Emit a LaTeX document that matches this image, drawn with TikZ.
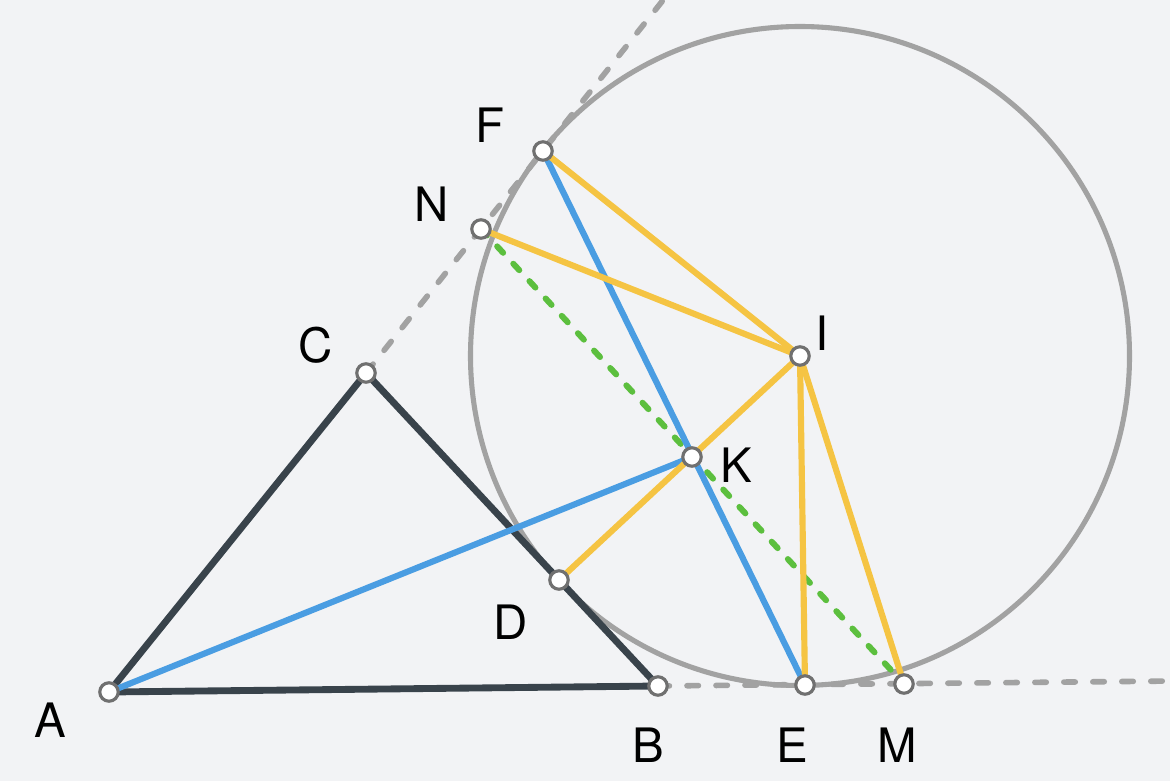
\documentclass[tikz,border=0pt]{standalone}
\usepackage{fontspec}
\setmainfont{TeX Gyre Heros}
\definecolor{bg}{HTML}{F2F3F5}
\definecolor{dark}{HTML}{39434B}
\definecolor{bl}{HTML}{4A9DE2}
\definecolor{yl}{HTML}{F5C443}
\definecolor{gr}{HTML}{5CBF3E}
\definecolor{gy}{HTML}{A2A2A2}
\definecolor{ptc}{HTML}{707070}
\begin{document}
\begin{tikzpicture}[x=0.02cm,y=-0.02cm,
  tri/.style={draw=dark,line width=3.9pt,line cap=round,line join=round},
  blu/.style={draw=bl,line width=3.5pt,line cap=round},
  yel/.style={draw=yl,line width=3.5pt,line cap=round},
  grd/.style={draw=gr,line width=3.4pt,dash pattern=on 5pt off 8.5pt,line cap=round},
  gyd/.style={draw=gy,line width=3.2pt,dash pattern=on 6.5pt off 10pt,line cap=round},
  circ/.style={draw=gy,line width=2.9pt},
  pt/.style={circle,fill=white,draw=ptc,line width=1.8pt,inner sep=0pt,minimum size=10.5pt},
  lab/.style={font=\fontsize{27}{27}\selectfont,text=black}]
\fill[bg] (0,0) rectangle (1170,781);
\useasboundingbox (0,0) rectangle (1170,781);
% coordinates
\coordinate (A) at (109,692);
\coordinate (B) at (658,686);
\coordinate (C) at (366,373);
\coordinate (D) at (559,580);
\coordinate (E) at (805,685);
\coordinate (M) at (904,684);
\coordinate (F) at (543,151);
\coordinate (N) at (481,229);
\coordinate (I) at (800,356);
\coordinate (K) at (692,457);
\coordinate (T1) at (668,-6);
\coordinate (T2) at (1175,681);
% dashed lines
\draw[gyd] (C) -- (T1);
\draw[gyd] (B) -- (T2);
% circle
\draw[circ] (I) circle (329.5);
% green dashed
\draw[grd] (N) -- (M);
% triangle
\draw[tri] (A) -- (B) -- (C) -- cycle;
% colored lines
\draw[blu] (A) -- (K);
\draw[blu] (F) -- (E);
\draw[yel] (F) -- (I);
\draw[yel] (N) -- (I);
\draw[yel] (I) -- (D);
\draw[yel] (I) -- (E);
\draw[yel] (I) -- (M);
% points
\foreach \p in {A,B,C,D,E,M,F,N,I,K} \node[pt] (p\p) at (\p) {};
% labels
\node[lab] (lA) at (50,720) {A};
\node[lab] (lB) at (648,745) {B};
\node[lab] (lC) at (316,345) {C};
\node[lab] (lD) at (511,622) {D};
\node[lab] (lE) at (792,745) {E};
\node[lab] (lM) at (897,745) {M};
\node[lab] (lF) at (490,125) {F};
\node[lab] (lN) at (432,204) {N};
\node[lab] (lI) at (822,333) {I};
\node[lab] (lK) at (736,465) {K};
\end{tikzpicture}
\end{document}
